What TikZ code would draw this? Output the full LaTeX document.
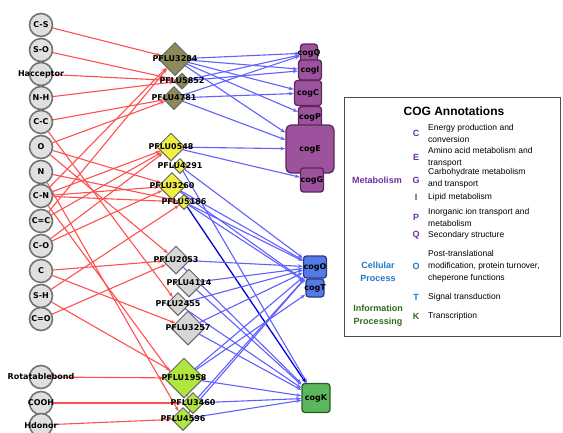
\documentclass[tikz,border=0pt]{standalone}
\usepackage{fontspec}
\setmainfont{Liberation Sans}
\newfontfamily\dvs{DejaVu Sans}
\usepackage{tikz}
\usetikzlibrary{shapes.geometric, arrows.meta, backgrounds}
\definecolor{featfill}{RGB}{224, 224, 224}
\definecolor{featline}{RGB}{115, 115, 115}
\definecolor{olivegene}{RGB}{140, 138, 88}
\definecolor{yellowgene}{RGB}{240, 240, 64}
\definecolor{graygene}{RGB}{214, 214, 214}
\definecolor{limegene}{RGB}{176, 230, 62}
\definecolor{cogpurple}{RGB}{156, 82, 156}
\definecolor{cogpurpleline}{RGB}{92, 40, 92}
\definecolor{cogblue}{RGB}{84, 122, 232}
\definecolor{cogblueline}{RGB}{40, 62, 128}
\definecolor{coggreen}{RGB}{92, 182, 92}
\definecolor{coggreenline}{RGB}{40, 92, 40}
\definecolor{edgered}{RGB}{255, 80, 80}
\definecolor{edgeblue}{RGB}{96, 96, 255}
\definecolor{metapurple}{RGB}{112, 48, 160}
\definecolor{cellblue}{RGB}{31, 120, 200}
\definecolor{infogreen}{RGB}{46, 107, 30}

\begin{document}
\begin{tikzpicture}[x=1pt, y=-1pt,
    feat/.style={circle, draw=featline, fill=featfill, line width=1.6pt,
                 minimum size=23pt, inner sep=0pt},
    gene/.style={diamond, aspect=1, draw=black!60, line width=1pt, inner sep=0pt},
    cog/.style={rectangle, rounded corners=3pt, line width=1.3pt, inner sep=0pt},
    lab/.style={font=\dvs\bfseries\fontsize{8}{9}\selectfont, inner sep=0pt},
    inp/.style={-{Stealth[length=5pt,width=3.5pt]}, draw=edgered, line width=1.1pt},
    outp/.style={-{Stealth[length=5pt,width=3.5pt]}, draw=edgeblue, line width=1.1pt},
    leg/.style={font=\fontsize{8.5}{12}\selectfont, anchor=west, align=left, inner sep=0pt},
    letr/.style={font=\bfseries\fontsize{9}{11}\selectfont, inner sep=0pt},
    cat/.style={font=\bfseries\fontsize{9}{13}\selectfont, align=center, inner sep=0pt}
]
\useasboundingbox (0,0) rectangle (563,432);

% chemical features
\node[feat] (fCS)   at (41, 25)  {};
\node[feat] (fSO)   at (41, 50)  {};
\node[feat] (fHacc) at (41, 74)  {};
\node[feat] (fNH)   at (41, 98)  {};
\node[feat] (fCC)   at (41, 122) {};
\node[feat] (fO)    at (41, 147) {};
\node[feat] (fN)    at (41, 172) {};
\node[feat] (fCN)   at (41, 196) {};
\node[feat] (fCdC)  at (41, 221) {};
\node[feat] (fCO)   at (41, 246) {};
\node[feat] (fC)    at (41, 271) {};
\node[feat] (fSH)   at (41, 296) {};
\node[feat] (fCdO)  at (41, 319) {};
\node[feat] (fRot)  at (41, 377) {};
\node[feat] (fCOOH) at (41, 403) {};
\node[feat] (fHdon) at (41, 425) {};

% genes
\node[gene, fill=olivegene, minimum size=33pt] (p3284) at (175, 59)  {};
\node[gene, fill=olivegene, minimum size=16pt] (p5852) at (182, 81)  {};
\node[gene, fill=olivegene, minimum size=23pt] (p4781) at (174, 98)  {};
\node[gene, fill=yellowgene, minimum size=28pt] (p0548) at (171, 147) {};
\node[gene, fill=yellowgene, minimum size=15pt] (p4291) at (180, 166) {};
\node[gene, fill=yellowgene, minimum size=27pt] (p3260) at (172, 186) {};
\node[gene, fill=yellowgene, minimum size=15pt] (p5186) at (184, 202) {};
\node[gene, fill=graygene, minimum size=28pt] (p2053) at (176, 260) {};
\node[gene, fill=graygene, minimum size=28pt] (p4114) at (189, 283) {};
\node[gene, fill=graygene, minimum size=23pt] (p2455) at (178, 304) {};
\node[gene, fill=graygene, minimum size=34pt] (p3257) at (188, 328) {};
\node[gene, fill=limegene, minimum size=40pt] (p1958) at (184, 378) {};
\node[gene, fill=limegene, minimum size=21pt] (p3460) at (193, 403) {};
\node[gene, fill=limegene, minimum size=23pt] (p4596) at (183, 419) {};

% COG categories
\node[cog, fill=cogpurple, draw=cogpurpleline, minimum width=17pt, minimum height=18pt] (cogQ) at (309, 53)  {};
\node[cog, fill=cogpurple, draw=cogpurpleline, minimum width=23pt, minimum height=20pt] (cogI) at (310, 70)  {};
\node[cog, fill=cogpurple, draw=cogpurpleline, minimum width=27pt, minimum height=25pt] (cogC) at (308, 93)  {};
\node[cog, fill=cogpurple, draw=cogpurpleline, minimum width=23pt, minimum height=21pt] (cogP) at (310, 117) {};
\node[cog, fill=cogpurple, draw=cogpurpleline, minimum width=48pt, minimum height=48pt,
      rounded corners=5pt] (cogE) at (310, 149) {};
\node[cog, fill=cogpurple, draw=cogpurpleline, minimum width=23pt, minimum height=24pt] (cogG) at (312, 180) {};
\node[cog, fill=cogblue, draw=cogblueline, minimum width=23pt, minimum height=22pt] (cogO) at (315, 267) {};
\node[cog, fill=cogblue, draw=cogblueline, minimum width=18pt, minimum height=18pt] (cogT) at (315, 288) {};
\node[cog, fill=coggreen, draw=coggreenline, minimum width=28pt, minimum height=29pt] (cogK) at (316, 398) {};

% feature -> gene
\begin{scope}[on background layer]
\draw[inp] (fCS)   -- (p3284);
\draw[inp] (fSO)   -- (p5852);
\draw[inp] (fHacc) -- (p5852);
\draw[inp] (fNH)   -- (p5852);
\draw[inp] (fCC)   -- (p4781);
\draw[inp] (fO)    -- (p4781);
\draw[inp] (fCN)   -- (p3284);
\draw[inp] (fCdC)  -- (p3284);
\draw[inp] (fCC)   -- (p2455);
\draw[inp] (fO)    -- (p2053);
\draw[inp] (fO)    -- (p3260);
\draw[inp] (fN)    -- (p5186);
\draw[inp] (fN)    -- (p4596);
\draw[inp] (fCN)   -- (p0548);
\draw[inp] (fCN)   -- (p3260);
\draw[inp] (fCN)   -- (p5186);
\draw[inp] (fCN)   -- (p3460);
\draw[inp] (fCdC)  -- (p0548);
\draw[inp] (fCO)   -- (p0548);
\draw[inp] (fCO)   -- (p3260);
\draw[inp] (fC)    -- (p2053);
\draw[inp] (fC)    -- (p3257);
\draw[inp] (fSH)   -- (p5186);
\draw[inp] (fSH)   -- (p1958);
\draw[inp] (fCdO)  -- (p2053);
\draw[inp] (fRot)  -- (p1958);
\draw[inp] (fCOOH) -- (p3460);
\draw[inp] (fHdon) -- (p4596);

% gene -> COG
\draw[outp] (p3284) -- (cogQ);
\draw[outp] (p3284) -- (cogI);
\draw[outp] (p3284) -- (cogC);
\draw[outp] (p3284) -- (cogP);
\draw[outp] (p3284) -- (cogE);
\draw[outp] (p5852) -- (cogQ);
\draw[outp] (p5852) -- (cogI);
\draw[outp] (p4781) -- (cogQ);
\draw[outp] (p4781) -- (cogC);
\draw[outp] (p4781) -- (cogE);
\draw[outp] (p0548) -- (cogE);
\draw[outp] (p0548) -- (cogG);
\draw[outp] (p4291) -- (cogO);
\draw[outp] (p4291) -- (cogK);
\draw[outp] (p3260) -- (cogO);
\draw[outp] (p3260) -- (cogT);
\draw[outp] (p5186) -- (cogO);
\draw[outp] (p5186) -- (cogT);
\draw[outp, draw=blue!85!black, line width=1.3pt] (p5186) -- (cogK);
\draw[outp] (p2053) -- (cogO);
\draw[outp] (p2053) -- (cogK);
\draw[outp] (p4114) -- (cogO);
\draw[outp] (p4114) -- (cogK);
\draw[outp] (p2455) -- (cogO);
\draw[outp] (p2455) -- (cogK);
\draw[outp] (p3257) -- (cogO);
\draw[outp] (p3257) -- (cogK);
\draw[outp] (p1958) -- (cogO);
\draw[outp] (p1958) -- (cogT);
\draw[outp] (p1958) -- (cogK);
\draw[outp] (p3460) -- (cogO);
\draw[outp] (p3460) -- (cogK);
\draw[outp] (p4596) -- (cogO);
\draw[outp] (p4596) -- (cogK);
\end{scope}

% labels on top
\node[lab] at (fCS)   {C-S};
\node[lab] at (fSO)   {S-O};
\node[lab] at (fHacc) {Hacceptor};
\node[lab] at (fNH)   {N-H};
\node[lab] at (fCC)   {C-C};
\node[lab] at (fO)    {O};
\node[lab] at (fN)    {N};
\node[lab] at (fCN)   {C-N};
\node[lab] at (fCdC)  {C=C};
\node[lab] at (fCO)   {C-O};
\node[lab] at (fC)    {C};
\node[lab] at (fSH)   {S-H};
\node[lab] at (fCdO)  {C=O};
\node[lab] at (fRot)  {Rotatablebond};
\node[lab] at (fCOOH) {COOH};
\node[lab] at (41, 426) {Hdonor};

\node[lab] at (p3284) {PFLU3284};
\node[lab] at (p5852) {PFLU5852};
\node[lab] at (p4781) {PFLU4781};
\node[lab] at (p0548) {PFLU0548};
\node[lab] at (p4291) {PFLU4291};
\node[lab] at (p3260) {PFLU3260};
\node[lab] at (p5186) {PFLU5186};
\node[lab] at (p2053) {PFLU2053};
\node[lab] at (p4114) {PFLU4114};
\node[lab] at (p2455) {PFLU2455};
\node[lab] at (p3257) {PFLU3257};
\node[lab] at (p1958) {PFLU1958};
\node[lab] at (p3460) {PFLU3460};
\node[lab] at (p4596) {PFLU4596};

\node[lab] at (cogQ) {cogQ};
\node[lab] at (cogI) {cogI};
\node[lab] at (cogC) {cogC};
\node[lab] at (cogP) {cogP};
\node[lab] at (cogE) {cogE};
\node[lab] at (cogG) {cogG};
\node[lab] at (cogO) {cogO};
\node[lab] at (cogT) {cogT};
\node[lab] at (cogK) {cogK};

% legend
\draw[black!70, line width=0.9pt] (344, 97) rectangle (560, 336);
\node[font=\bfseries\fontsize{12}{14}\selectfont] (legtitle) at (454, 111) {COG Annotations};

\node[cat, text=metapurple] (catM) at (377, 180) {Metabolism};
\node[cat, text=cellblue]   (catC) at (378, 272) {Cellular\\Process};
\node[cat, text=infogreen]  (catI) at (378, 316) {Information\\Processing};

\node[letr, text=metapurple] (lC) at (416, 133) {C};
\node[letr, text=metapurple] (lE) at (416, 157) {E};
\node[letr, text=metapurple] (lG) at (416, 180) {G};
\node[letr, text=metapurple] (lI) at (416, 197) {I};
\node[letr, text=metapurple] (lP) at (416, 217) {P};
\node[letr, text=metapurple] (lQ) at (416, 235) {Q};
\node[letr, text=cellblue]   (lO) at (416, 266) {O};
\node[letr, text=cellblue]   (lT) at (416, 297) {T};
\node[letr, text=infogreen]  (lK) at (416, 316) {K};

\node[leg] at (428, 133) {Energy production and\\conversion};
\node[leg] at (428, 157) {Amino acid metabolism and\\transport};
\node[leg] at (428, 178) {Carbohydrate metabolism\\and transport};
\node[leg] at (428, 197) {Lipid metabolism};
\node[leg] at (428, 217) {Inorganic ion transport and\\metabolism};
\node[leg] at (428, 235) {Secondary structure};
\node[leg] at (428, 266) {Post-translational\\modification, protein turnover,\\cheperone functions};
\node[leg] at (428, 297) {Signal transduction};
\node[leg] at (428, 316) {Transcription};

\end{tikzpicture}
\end{document}
